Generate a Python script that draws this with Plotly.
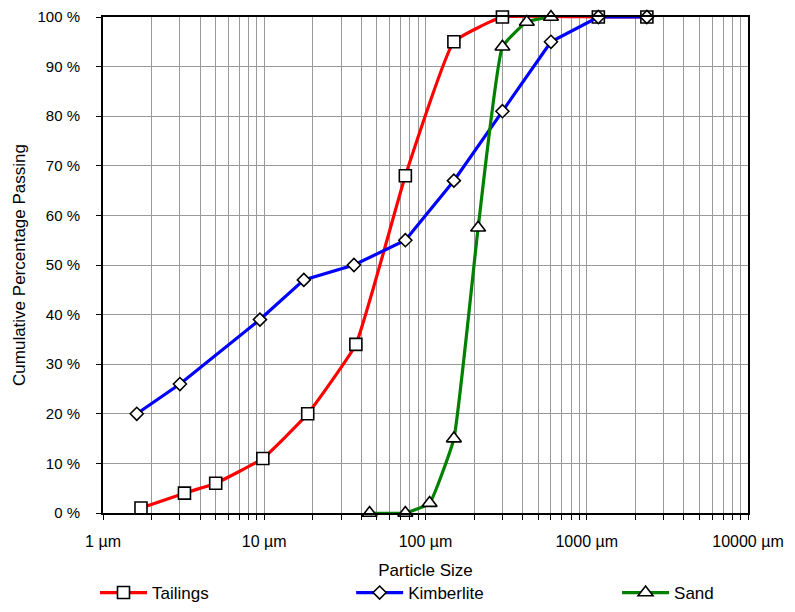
import plotly.graph_objects as go

# Data
tail_x = [1.72, 3.2, 5.0, 9.8, 18.6, 37, 75, 150, 300, 1180, 2360]
tail_y = [1, 4, 6, 11, 20, 34, 68, 95, 100, 100, 100]

kimb_x = [1.62, 3.0, 9.4, 17.6, 36, 75, 150, 300, 600, 1180, 2360]
kimb_y = [20, 26, 39, 47, 50, 55, 67, 81, 95, 100, 100]

sand_x = [45, 75, 106, 150, 212, 300, 425, 600]
sand_y = [0, 0, 2, 15, 57.5, 94, 99, 100]

major_vals = [1, 10, 100, 1000, 10000]
major_text = ["1 µm", "10 µm", "100 µm", "1000 µm", "10000 µm"]

tickvals = []
ticktext = []
for d in [1, 10, 100, 1000]:
    for m in range(1, 10):
        v = d * m
        tickvals.append(v)
        ticktext.append(major_text[major_vals.index(v)] if v in major_vals else "")
tickvals.append(10000)
ticktext.append("10000 µm")

FONT = "Liberation Sans, Arial, sans-serif"

fig = go.Figure()

def add(x, y, name, color, symbol, size, legend, shape="spline"):
    fig.add_trace(go.Scatter(
        x=x, y=y, name=name, mode="lines+markers", legend=legend,
        line=dict(color=color, width=3.2, shape=shape, smoothing=0.35),
        marker=dict(symbol=symbol, size=size, color="white",
                    line=dict(color="black", width=1.6)),
        cliponaxis=False,
    ))

add(tail_x, tail_y, "Tailings", "#ff0000", "square", 12, "legend")
add(kimb_x, kimb_y, "Kimberlite", "#0000ff", "diamond", 10, "legend2", shape="linear")
add(sand_x, sand_y, "Sand", "#008000", "triangle-up", 13, "legend3")

leg_common = dict(y=-0.1613, yanchor="middle", xanchor="left", itemwidth=47,
                  font=dict(size=17), bgcolor="rgba(0,0,0,0)", borderwidth=0)

fig.update_layout(
    width=795, height=612,
    margin=dict(l=103, r=47, t=17, b=99, autoexpand=False),
    paper_bgcolor="white", plot_bgcolor="white",
    font=dict(family=FONT, size=15, color="black"),
    showlegend=True,
    legend=dict(x=-0.0124, **leg_common),
    legend2=dict(x=0.3847, **leg_common),
    legend3=dict(x=0.797, **leg_common),
)

fig.update_xaxes(
    type="log", range=[0, 4],
    tickvals=tickvals, ticktext=ticktext,
    showgrid=True, gridcolor="#999999", gridwidth=1,
    ticks="outside", ticklen=5, tickcolor="black", tickwidth=1,
    showline=True, linecolor="black", linewidth=2, mirror=True,
    zeroline=False, automargin=False,
    ticklabelstandoff=8,
    title=dict(text="Particle Size", font=dict(size=17), standoff=15),
    tickfont=dict(size=16),
)
fig.update_yaxes(
    range=[0, 100], dtick=10, tick0=0, ticksuffix=" %",
    showgrid=True, gridcolor="#999999", gridwidth=1,
    ticks="outside", ticklen=5, tickcolor="black", tickwidth=1,
    showline=True, linecolor="black", linewidth=2, mirror=True,
    zeroline=False, automargin=False,
    ticklabelstandoff=13,
    title=dict(text="Cumulative Percentage Passing", font=dict(size=17), standoff=8),
    tickfont=dict(size=15),
)

fig.write_html("out.html", config={"displayModeBar": False},
               post_script="document.body.style.margin='0';document.body.style.padding='0';")
